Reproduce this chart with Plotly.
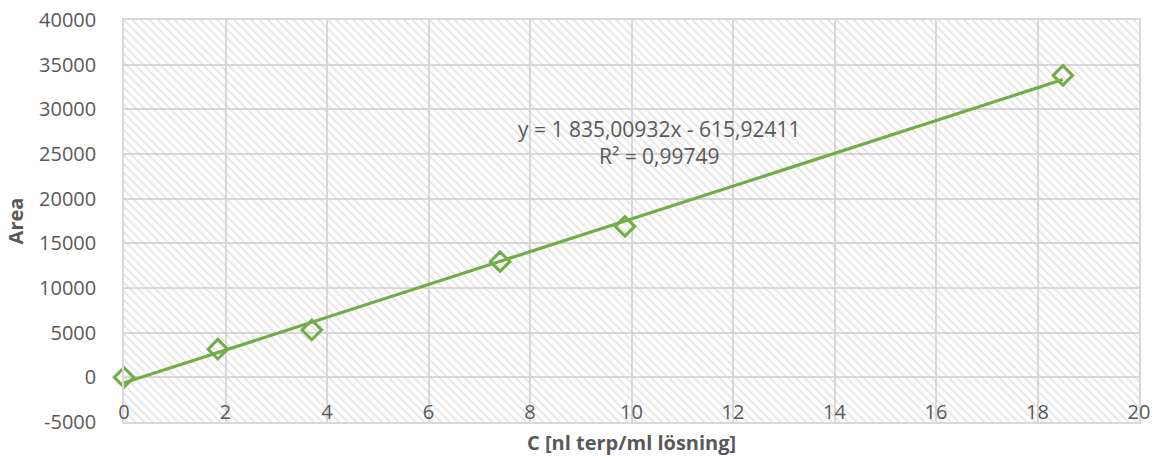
import plotly.graph_objects as go

# data
conc = [0, 1.85, 3.70, 7.41, 9.87, 18.5]
area = [0, 3150, 5300, 12950, 16900, 33800]
slope = 1835.00932
intercept = -615.92411
r2 = 0.99749
x_range = [0, 20]
y_range = [-5000, 40000]
x_ticks = [0, 2, 4, 6, 8, 10, 12, 14, 16, 18, 20]
y_ticks = [-5000, 0, 5000, 10000, 15000, 20000, 25000, 30000, 35000, 40000]
x_ticktext = [str(v) for v in x_ticks]
y_ticktext = [str(v) for v in y_ticks]

green = "#70AD47"
grid = "#D9D9D9"
txt = "#595959"
font = "Open Sans"

fig = go.Figure()

# hatched plot-area background
fig.add_trace(go.Scatter(
    x=[x_range[0], x_range[1], x_range[1], x_range[0], x_range[0]],
    y=[y_range[0], y_range[0], y_range[1], y_range[1], y_range[0]],
    mode="none", fill="toself", fillcolor="rgba(0,0,0,0)",
    fillpattern=dict(shape="\\", fgcolor="#C8C8C8", bgcolor="rgba(0,0,0,0)",
                     size=6, solidity=0.3),
    hoverinfo="skip", showlegend=False))

# trendline
x_line = [min(conc), max(conc)]
y_line = [slope * v + intercept for v in x_line]
fig.add_trace(go.Scatter(x=x_line, y=y_line, mode="lines",
                         line=dict(color=green, width=3.2), showlegend=False))

# data points
fig.add_trace(go.Scatter(x=conc, y=area, mode="markers", cliponaxis=False,
                         marker=dict(symbol="diamond-open", size=15, color=green,
                                     line=dict(color=green, width=3)),
                         showlegend=False))

def fmt(v, d):
    return f"{abs(v):,.{d}f}".replace(",", " ").replace(".", ",")

eq = f"y = {fmt(slope, 5)}x - {fmt(abs(intercept), 5)}<br>R² = {fmt(r2, 5)}"
fig.add_annotation(x=10.55, y=26300, xref="x", yref="y", text=eq, showarrow=False,
                   font=dict(family=font, size=21, color=txt), align="center")

fig.add_annotation(x=(631 - 124) / (1139 - 124), y=-0.052, xref="paper", yref="paper",
                   yanchor="middle", text="<b>C [nl terp/ml lösning]</b>", showarrow=False,
                   font=dict(family=font, size=20, color=txt))

fig.update_layout(
    width=1161, height=461,
    margin=dict(l=124, r=22, t=20, b=39, autoexpand=False),
    paper_bgcolor="white", plot_bgcolor="white",
    font=dict(family=font, size=20, color=txt),
    xaxis=dict(range=x_range, tickvals=x_ticks, ticktext=x_ticktext,
               showgrid=True, gridcolor=grid, automargin=False,
               gridwidth=1.5, zeroline=False, showline=True, linecolor=grid,
               linewidth=1.5, mirror=True, ticks="", ticklabelposition="inside",
               ticklabeloverflow="allow", tickfont=dict(size=20, color=txt)),
    yaxis=dict(range=y_range, tickvals=y_ticks, ticktext=y_ticktext,
               showgrid=True, gridcolor=grid, automargin=False,
               gridwidth=1.5, zeroline=False, showline=True, linecolor=grid,
               linewidth=1.5, mirror=True, ticks="", ticklabelstandoff=22,
               tickfont=dict(size=20, color=txt),
               title=dict(text="<b>Area</b>", font=dict(size=20, color=txt),
                          standoff=10)),
)

fig.write_html("out.html", post_script="document.body.style.margin='0';",
               config={"displayModeBar": False})
